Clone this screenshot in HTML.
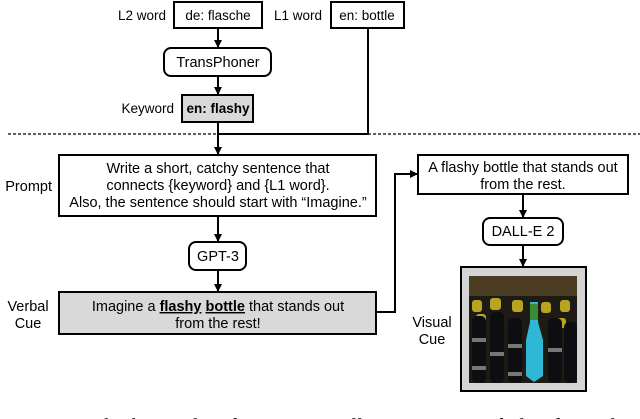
<!DOCTYPE html>
<html><head><meta charset="utf-8"><style>
html,body{margin:0;padding:0;background:#fff;overflow:hidden}
svg{display:block}
text{font-family:"Liberation Sans",sans-serif;font-size:14.5px;fill:#000}
.s{font-size:13.5px}
</style></head><body>
<svg width="640" height="419" viewBox="0 0 640 419" xmlns="http://www.w3.org/2000/svg">
<defs><marker id="a" markerWidth="8" markerHeight="8" refX="7" refY="4" orient="auto" markerUnits="userSpaceOnUse"><path d="M0,0 L8,4 L0,8 z" fill="#000"/></marker></defs>
<g stroke="#000" stroke-width="2" fill="none">
<rect x="174" y="2" width="88" height="26" fill="#fff"/>
<rect x="331" y="2" width="73" height="26" fill="#fff"/>
<rect x="164" y="48" width="107" height="28" rx="7" fill="#fff"/>
<rect x="182" y="95" width="71" height="27" fill="#d9d9d9"/>
<line x1="218" y1="28" x2="218" y2="47" marker-end="url(#a)"/>
<line x1="218" y1="76" x2="218" y2="94" marker-end="url(#a)"/>
<polyline points="368,28 368,134 218,134"/>
<line x1="218" y1="122" x2="218" y2="154" marker-end="url(#a)"/>
<rect x="59" y="155" width="317" height="61" fill="#fff"/>
<line x1="218" y1="216" x2="218" y2="241" marker-end="url(#a)"/>
<rect x="189" y="242" width="57" height="28" rx="7" fill="#fff"/>
<line x1="218" y1="270" x2="218" y2="291" marker-end="url(#a)"/>
<rect x="59" y="292" width="317" height="42" fill="#d9d9d9"/>
<polyline points="376,312 395,312 395,174 417,174" marker-end="url(#a)"/>
<rect x="418" y="155" width="210" height="39" fill="#fff"/>
<line x1="523" y1="194" x2="523" y2="217" marker-end="url(#a)"/>
<rect x="483" y="218" width="80" height="27" rx="7" fill="#fff"/>
<line x1="523" y1="245" x2="523" y2="266" marker-end="url(#a)"/>
<rect x="461" y="267" width="125" height="124" fill="#d4d4d4"/>
</g>
<line x1="8" y1="134" x2="640" y2="134" stroke="#000" stroke-width="1.2" stroke-dasharray="3,2"/>
<line x1="218" y1="134" x2="368" y2="134" stroke="#000" stroke-width="2"/>
<rect x="469" y="276" width="108" height="107" fill="#1e1a14"/>
<rect x="469" y="276" width="108" height="20" fill="#4a3c22"/>
<g fill="#b8a420">
<rect x="472" y="300" width="10" height="12" rx="3"/><rect x="490" y="298" width="11" height="12" rx="3"/><rect x="512" y="300" width="11" height="12" rx="3"/><rect x="541" y="302" width="10" height="11" rx="3"/><rect x="560" y="300" width="10" height="12" rx="3"/>
<rect x="476" y="314" width="10" height="10" rx="3"/><rect x="556" y="318" width="10" height="10" rx="3"/>
</g>
<g fill="#0e0e12">
<rect x="472" y="316" width="14" height="67" rx="5"/><rect x="490" y="312" width="14" height="71" rx="5"/><rect x="508" y="318" width="14" height="65" rx="5"/><rect x="548" y="318" width="14" height="65" rx="5"/><rect x="564" y="322" width="13" height="61" rx="5"/>
</g>
<g fill="#bbb" opacity="0.6"><rect x="472" y="338" width="14" height="4"/><rect x="490" y="352" width="14" height="4"/><rect x="508" y="344" width="14" height="4"/><rect x="548" y="348" width="14" height="4"/><rect x="472" y="366" width="14" height="4"/><rect x="508" y="372" width="14" height="4"/></g>
<path d="M530,302 L538,302 L538,322 L543,340 L543,376 L534,382 L526,376 L526,340 L530,322 z" fill="#2fb7d6"/>
<rect x="530" y="304" width="8" height="16" fill="#3a8a3a"/>
<g text-anchor="middle">
<text class="s" x="218" y="20">de: flasche</text>
<text class="s" x="367" y="20">en: bottle</text>
<text x="218" y="67">TransPhoner</text>
<text class="s" x="218" y="113" font-weight="bold">en: flashy</text>
<text x="218" y="173">Write a short, catchy sentence that</text>
<text x="218" y="190">connects {keyword} and {L1 word}.</text>
<text x="218" y="207">Also, the sentence should start with “Imagine.”</text>
<text x="218" y="261">GPT-3</text>
<text x="218" y="311">Imagine a <tspan font-weight="bold" text-decoration="underline">flashy</tspan> <tspan font-weight="bold" text-decoration="underline">bottle</tspan> that stands out</text>
<text x="218" y="328">from the rest!</text>
<text x="523" y="172">A flashy bottle that stands out</text>
<text x="523" y="189">from the rest.</text>
<text x="523" y="236">DALL-E 2</text>
<text x="28" y="311">Verbal</text>
<text x="28" y="328">Cue</text>
<text x="432" y="327">Visual</text>
<text x="432" y="344">Cue</text>
</g>
<g text-anchor="end">
<text class="s" x="166" y="20">L2 word</text>
<text class="s" x="322" y="20">L1 word</text>
<text class="s" x="174" y="113">Keyword</text>
<text x="52" y="191">Prompt</text>
</g>
<text x="0" y="433" style="font-family:'Liberation Serif',serif;font-size:21px">Our approach: the pipeline for automatically generating verbal and visual cues</text>
</svg>
</body></html>
